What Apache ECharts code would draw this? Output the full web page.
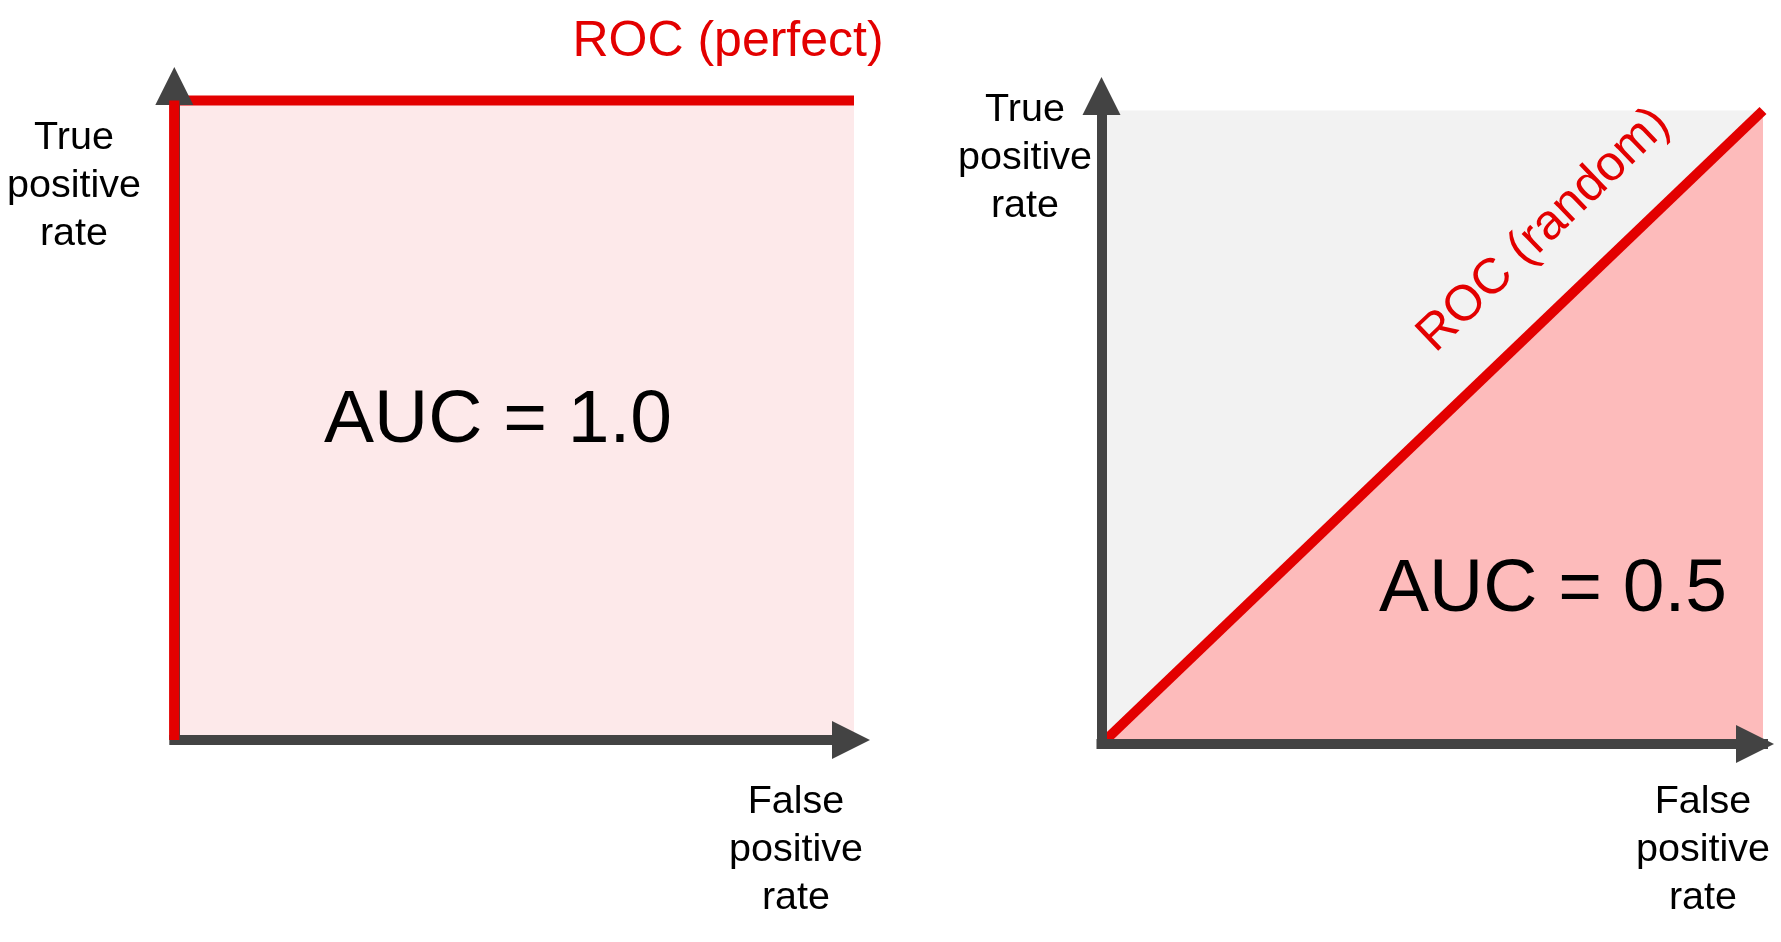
<!DOCTYPE html>
<html>
<head>
<meta charset="utf-8">
<script src="https://cdn.jsdelivr.net/npm/echarts@6/dist/echarts.min.js"></script>
<style>
  html, body { margin: 0; padding: 0; background: #ffffff; }
  #chart { width: 1781px; height: 942px; }
</style>
</head>
<body>
<div id="chart"></div>
<script>
// ---- data ----
const perfectFPR = [0, 0, 1];
const perfectTPR = [0, 1, 1];
const perfectEdgeFPR = [0, 0];
const perfectEdgeTPR = [0, 1];
const randomFPR = [0, 1];
const randomTPR = [0, 1];
const squareTopFPR = [0, 1];
const squareTopTPR = [1, 1];

const zip = (xs, ys) => xs.map((x, i) => [x, ys[i]]);

const FONT = "'Helvetica Neue', Helvetica, 'Liberation Sans', Arial, sans-serif";
const RED = '#e30000';
const AXIS = '#434343';

function axisCfg(gridIndex, offsetEnd) {
  return {
    type: 'value', gridIndex: gridIndex, min: 0, max: 1, z: 3,
    axisLine: {
      show: true, onZero: false,
      symbol: ['none', 'triangle'],
      symbolSize: [38, 38],
      symbolOffset: [0, offsetEnd],
      lineStyle: { color: AXIS, width: 10, cap: 'square' }
    },
    axisTick: { show: false },
    axisLabel: { show: false },
    splitLine: { show: false }
  };
}

const chart = echarts.init(document.getElementById('chart'), null, { renderer: 'canvas' });

const option = {
  animation: false,
  backgroundColor: '#ffffff',
  grid: [
    { left: 174.3, top: 100.5, width: 679.7, height: 639.5 },
    { left: 1101.5, top: 110.5, width: 661.5, height: 633.5 }
  ],
  xAxis: [axisCfg(0, -3), axisCfg(1, -8)],
  yAxis: [axisCfg(0, 14.5), axisCfg(1, 14.5)],
  series: [
    {
      name: 'ROC (perfect)', type: 'line', xAxisIndex: 0, yAxisIndex: 0, z: 1,
      data: zip(perfectFPR, perfectTPR), showSymbol: false, symbol: 'none', clip: false,
      lineStyle: { color: RED, width: 10 },
      areaStyle: { color: '#fde9ea', opacity: 1 }
    },
    {
      name: 'ROC (perfect) edge', type: 'line', xAxisIndex: 0, yAxisIndex: 0, z: 5,
      data: zip(perfectEdgeFPR, perfectEdgeTPR), showSymbol: false, symbol: 'none', clip: false,
      lineStyle: { color: RED, width: 10 }
    },
    {
      name: 'square', type: 'line', xAxisIndex: 1, yAxisIndex: 1, z: 1,
      data: zip(squareTopFPR, squareTopTPR), showSymbol: false, symbol: 'none', clip: false,
      lineStyle: { opacity: 0 },
      areaStyle: { color: '#f2f2f2', opacity: 1 }
    },
    {
      name: 'ROC (random)', type: 'line', xAxisIndex: 1, yAxisIndex: 1, z: 2,
      data: zip(randomFPR, randomTPR), showSymbol: false, symbol: 'none', clip: false,
      lineStyle: { color: RED, width: 10 },
      areaStyle: { color: '#fdbbbb', opacity: 1 }
    }
  ],
  graphic: [
    { type: 'text', x: 728, y: 42, z: 10, style: { text: 'ROC (perfect)', fill: RED, font: '50px ' + FONT, textAlign: 'center', textVerticalAlign: 'middle' } },
    { type: 'text', x: 498, y: 421, z: 10, style: { text: 'AUC = 1.0', fill: '#000', font: '75px ' + FONT, textAlign: 'center', textVerticalAlign: 'middle' } },
    { type: 'text', x: 1553, y: 590, z: 10, style: { text: 'AUC = 0.5', fill: '#000', font: '75px ' + FONT, textAlign: 'center', textVerticalAlign: 'middle' } },
    { type: 'text', x: 1544, y: 230, rotation: 43.8 * Math.PI / 180, z: 10, style: { text: 'ROC (random)', fill: RED, font: '50px ' + FONT, textAlign: 'center', textVerticalAlign: 'middle' } },
    { type: 'text', x: 74, y: 186, z: 10, style: { text: 'True\npositive\nrate', fill: '#000', font: '39.5px ' + FONT, lineHeight: 48, textAlign: 'center', textVerticalAlign: 'middle' } },
    { type: 'text', x: 1025, y: 158, z: 10, style: { text: 'True\npositive\nrate', fill: '#000', font: '39.5px ' + FONT, lineHeight: 48, textAlign: 'center', textVerticalAlign: 'middle' } },
    { type: 'text', x: 796, y: 850, z: 10, style: { text: 'False\npositive\nrate', fill: '#000', font: '39.5px ' + FONT, lineHeight: 48, textAlign: 'center', textVerticalAlign: 'middle' } },
    { type: 'text', x: 1703, y: 850, z: 10, style: { text: 'False\npositive\nrate', fill: '#000', font: '39.5px ' + FONT, lineHeight: 48, textAlign: 'center', textVerticalAlign: 'middle' } }
  ]
};

chart.setOption(option);
</script>
</body>
</html>
